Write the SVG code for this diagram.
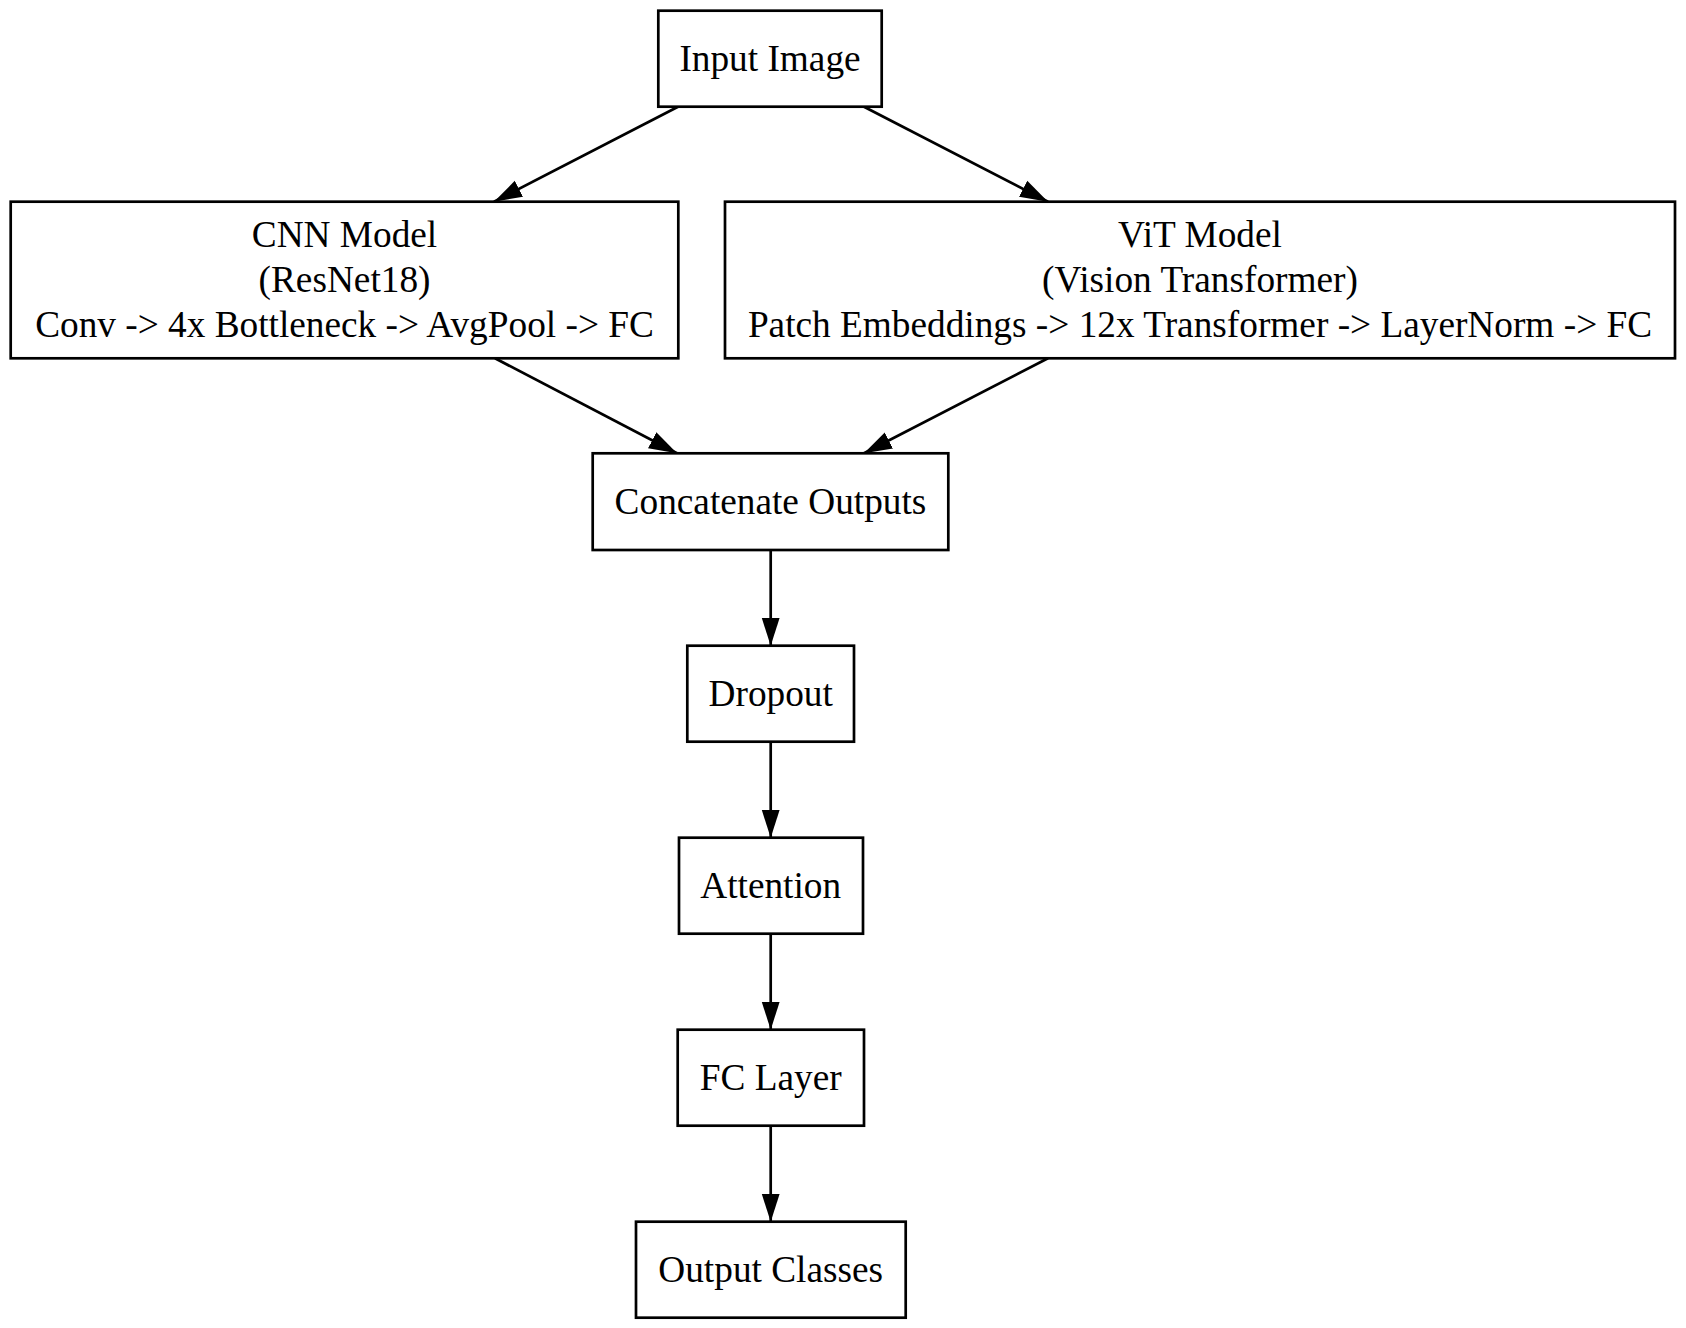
<svg xmlns="http://www.w3.org/2000/svg" width="1686" height="1328" viewBox="0 0 1686 1328">
<style>
.box{fill:#ffffff;stroke:#000000;stroke-width:2.7}
.lbl{font-family:"Liberation Serif","Times New Roman",serif;font-size:37.3px;fill:#000000;text-anchor:middle}
.edge{fill:none;stroke:#000000;stroke-width:2.7}
</style>
<defs>
<marker id="arrow" viewBox="0 0 28 20" refX="28" refY="10" markerWidth="28" markerHeight="20" markerUnits="userSpaceOnUse" orient="auto">
<path d="M0,1 L28,10 L0,19 Z" fill="#000000"/>
</marker>
</defs>
<rect width="1686" height="1328" fill="#ffffff"/>
<g id="connectors">
<path class="edge" d="M678,106.7 L494,201.7" marker-end="url(#arrow)"/>
<path class="edge" d="M864,106.7 L1048,201.7" marker-end="url(#arrow)"/>
<path class="edge" d="M495,358.3 L677,453.3" marker-end="url(#arrow)"/>
<path class="edge" d="M1048,358.3 L864,453.3" marker-end="url(#arrow)"/>
<path class="edge" d="M770.7,550 L770.7,645.7" marker-end="url(#arrow)"/>
<path class="edge" d="M770.7,741.7 L770.7,837.7" marker-end="url(#arrow)"/>
<path class="edge" d="M770.7,933.7 L770.7,1029.7" marker-end="url(#arrow)"/>
<path class="edge" d="M770.7,1125.7 L770.7,1221.7" marker-end="url(#arrow)"/>
</g>
<g id="input_image">
<rect class="box" x="658.3" y="10.7" width="223.4" height="96"/>
<text class="lbl" x="770" y="70.5">Input Image</text>
</g>
<g id="cnn_model">
<rect class="box" x="10.7" y="201.7" width="667.6" height="156.6"/>
<text class="lbl" x="344.5" y="247">CNN Model</text>
<text class="lbl" x="344.5" y="292">(ResNet18)</text>
<text class="lbl" x="344.5" y="337">Conv -&gt; 4x Bottleneck -&gt; AvgPool -&gt; FC</text>
</g>
<g id="vit_model">
<rect class="box" x="725" y="201.7" width="950" height="156.6"/>
<text class="lbl" x="1200" y="247">ViT Model</text>
<text class="lbl" x="1200" y="292">(Vision Transformer)</text>
<text class="lbl" x="1200" y="337">Patch Embeddings -&gt; 12x Transformer -&gt; LayerNorm -&gt; FC</text>
</g>
<g id="concatenate_outputs">
<rect class="box" x="592.7" y="453.3" width="355.6" height="96.7"/>
<text class="lbl" x="770.5" y="513.5">Concatenate Outputs</text>
</g>
<g id="dropout">
<rect class="box" x="687.3" y="645.7" width="166.7" height="96"/>
<text class="lbl" x="770.7" y="705.5">Dropout</text>
</g>
<g id="attention">
<rect class="box" x="679" y="837.7" width="184" height="96"/>
<text class="lbl" x="770.7" y="897.5">Attention</text>
</g>
<g id="fc_layer">
<rect class="box" x="677.7" y="1029.7" width="186.3" height="96"/>
<text class="lbl" x="770.7" y="1089.5">FC Layer</text>
</g>
<g id="output_classes">
<rect class="box" x="636" y="1221.7" width="269.7" height="96"/>
<text class="lbl" x="770.7" y="1281.5">Output Classes</text>
</g>
</svg>
